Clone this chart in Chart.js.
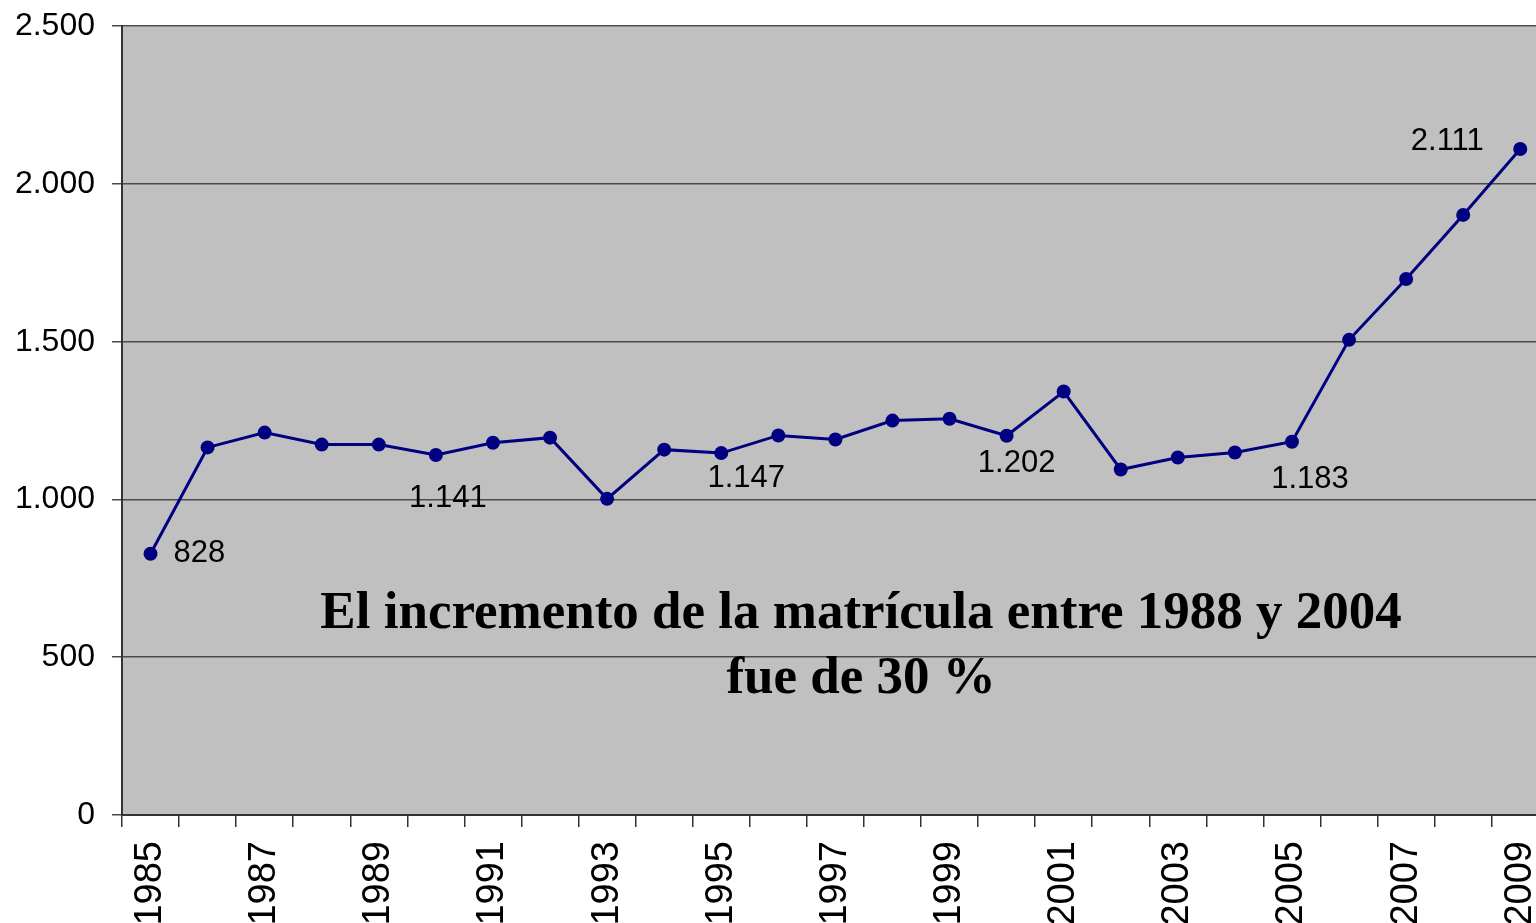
<!DOCTYPE html>
<html>
<head>
<meta charset="utf-8">
<script src="https://cdn.jsdelivr.net/npm/chart.js@4/dist/chart.umd.min.js"></script>
<style>
  html, body { margin: 0; padding: 0; background: #fff; overflow: hidden; }
  canvas { display: block; margin-top: -10px; }
</style>
</head>
<body>
<canvas id="chart" width="1580" height="940"></canvas>
<script>
const years = ['1985','1986','1987','1988','1989','1990','1991','1992','1993','1994','1995','1996',
  '1997','1998','1999','2000','2001','2002','2003','2004','2005','2006','2007','2008','2009'];
const matricula = [828, 1165, 1212, 1174, 1174, 1141, 1180, 1196, 1002, 1158, 1147, 1203,
  1190, 1250, 1256, 1202, 1342, 1095, 1133, 1149, 1183, 1506, 1699, 1902, 2111];
const labeledYears = ['1985', '1990', '1995', '2000', '2005', '2009'];
const yTicks = [0, 500, 1000, 1500, 2000, 2500];
const noteLines = ['El incremento de la matrícula entre 1988 y 2004', 'fue de 30 %'];

const fmt = v => v.toLocaleString('de-DE');

// label offsets from the point (dx, dy, align)
const labelPos = {
  '1985': [23, 0, 'left'],
  '1990': [12, 43, 'center'],
  '1995': [25, 25, 'center'],
  '2000': [10, 28, 'center'],
  '2005': [18, 38, 'center'],
  '2009': [-73, -7, 'center']
};

const plotBg = {
  id: 'plotBg',
  beforeDraw(chart) {
    const { ctx, chartArea: a } = chart;
    ctx.save();
    ctx.fillStyle = '#c0c0c0';
    ctx.fillRect(a.left, a.top, a.right - a.left, a.bottom - a.top);
    ctx.restore();
  }
};

const pointLabels = {
  id: 'pointLabels',
  afterDatasetsDraw(chart) {
    const { ctx } = chart;
    const meta = chart.getDatasetMeta(0);
    ctx.save();
    ctx.font = '31px "Liberation Sans", Arial, sans-serif';
    ctx.fillStyle = '#000';
    ctx.textBaseline = 'middle';
    labeledYears.forEach(y => {
      const i = years.indexOf(y);
      const p = meta.data[i];
      const [dx, dy, align] = labelPos[y];
      ctx.textAlign = align;
      ctx.fillText(fmt(matricula[i]), p.x + dx, p.y + dy);
    });
    ctx.restore();
  }
};

const note = {
  id: 'note',
  afterDraw(chart) {
    const { ctx, chartArea: a, scales } = chart;
    const x = a.left + (a.right - a.left) * 0.518;
    ctx.save();
    ctx.font = 'bold 53px "Liberation Serif", "Times New Roman", serif';
    ctx.fillStyle = '#000';
    ctx.textAlign = 'center';
    ctx.textBaseline = 'middle';
    ctx.fillText(noteLines[0], x, scales.y.getPixelForValue(636));
    ctx.fillText(noteLines[1], x, scales.y.getPixelForValue(430));
    ctx.restore();
  }
};

new Chart(document.getElementById('chart'), {
  type: 'line',
  data: {
    labels: years,
    datasets: [{
      data: matricula,
      borderColor: '#000080',
      backgroundColor: '#000080',
      borderWidth: 3,
      pointRadius: 7,
      pointHoverRadius: 7,
      pointBackgroundColor: '#000080',
      pointBorderWidth: 0,
      tension: 0
    }]
  },
  options: {
    responsive: false,
    animation: false,
    layout: { padding: { top: 15, right: 1, left: 0, bottom: 0 } },
    plugins: { legend: { display: false }, tooltip: { enabled: false } },
    scales: {
      x: {
        offset: true,
        grid: { offset: true, drawOnChartArea: false, drawTicks: true, tickLength: 12, color: '#333', lineWidth: 1.5 },
        border: { color: '#333', width: 2 },
        ticks: {
          autoSkip: false,
          maxRotation: 90,
          minRotation: 90,
          padding: 14,
          color: '#000',
          font: { family: '"Liberation Sans", Arial, sans-serif', size: 38 },
          callback: (v, i) => (i % 2 === 0 ? years[i] : '')
        },
        afterFit: s => { s.height = 115; }
      },
      y: {
        min: 0,
        max: 2500,
        afterBuildTicks: s => { s.ticks = yTicks.map(v => ({ value: v })); },
        grid: { color: '#4a4a4a', lineWidth: 1.5, tickLength: 10 },
        border: { color: '#333', width: 2 },
        ticks: {
          padding: 17,
          color: '#000',
          font: { family: '"Liberation Sans", Arial, sans-serif', size: 32 },
          callback: v => fmt(v)
        },
        afterFit: s => { s.width = 122; }
      }
    }
  },
  plugins: [plotBg, pointLabels, note]
});
</script>
</body>
</html>
